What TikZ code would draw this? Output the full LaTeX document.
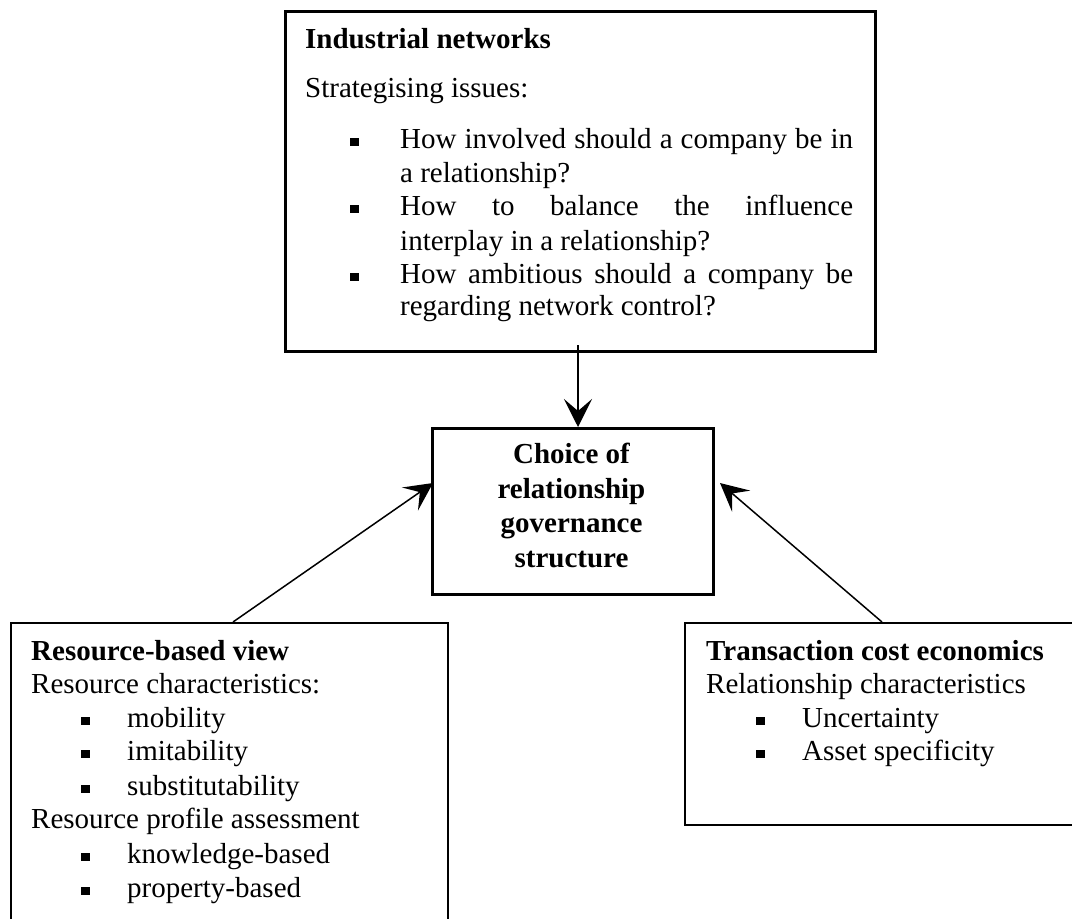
\documentclass[tikz,border=0pt]{standalone}
\usepackage{fontspec}
\setmainfont{Liberation Serif}
\usetikzlibrary{arrows.meta}
\newcommand{\sqbul}{\rule[2.5pt]{8.5pt}{8pt}}
\begin{document}
\begin{tikzpicture}[x=1pt,y=-1pt,
  txt/.style={anchor=base west, inner sep=0pt, font=\fontsize{29}{34}\selectfont},
  hd/.style={anchor=base west, inner sep=0pt, font=\fontsize{29}{34}\selectfont\bfseries},
  ctr/.style={anchor=base, inner sep=0pt, font=\fontsize{29}{34}\selectfont\bfseries},
  bul/.style={anchor=base west, inner sep=0pt},
  boxthin/.style={draw, line width=1.5pt, inner sep=0pt, anchor=north west},
  boxthick/.style={draw, line width=2.6pt, inner sep=0pt, anchor=north west},
  arr/.style={line width=1.5pt, -{Stealth[length=28pt,width=28pt,inset=12pt]}},
]
\useasboundingbox (0,0) rectangle (1072,919);
% boxes
\node[boxthick, minimum width=590pt, minimum height=340pt] (top) at (284,10) {};
\node[boxthick, minimum width=281pt, minimum height=166pt] (mid) at (431,427) {};
\node[boxthin, minimum width=437pt, minimum height=330pt] (rbv) at (10,622) {};
\node[boxthin, minimum width=420pt, minimum height=202pt] (tce) at (684,622) {};
% top box text
\node[hd] (t0) at (305,48) {Industrial networks};
\node[txt] (t1) at (305,97) {Strategising issues:};
\node[bul] (tb1) at (350,148) {\sqbul};
\node[txt] (t2) at (400,148) {\makebox[453pt][s]{How involved should a company be in}};
\node[txt] (t3) at (400,182) {a relationship?};
\node[bul] (tb2) at (350,215) {\sqbul};
\node[txt] (t4) at (400,215) {\makebox[453pt][s]{How to balance the influence}};
\node[txt] (t5) at (400,250) {interplay in a relationship?};
\node[bul] (tb3) at (350,283) {\sqbul};
\node[txt] (t6) at (400,283) {\makebox[453pt][s]{How ambitious should a company be}};
\node[txt] (t7) at (400,315) {regarding network control?};
% middle box text
\node[ctr] (c1) at (571.5,463) {Choice of};
\node[ctr] (c2) at (571.5,498) {relationship};
\node[ctr] (c3) at (571.5,532) {governance};
\node[ctr] (c4) at (571.5,567) {structure};
% left box text
\node[hd] (r0) at (31,660) {Resource-based view};
\node[txt] (r1) at (31,693) {Resource characteristics:};
\node[bul] (rb1) at (81,727) {\sqbul};
\node[txt] (r2) at (127,727) {mobility};
\node[bul] (rb2) at (81,760) {\sqbul};
\node[txt] (r3) at (127,760) {imitability};
\node[bul] (rb3) at (81,795) {\sqbul};
\node[txt] (r4) at (127,795) {substitutability};
\node[txt] (r5) at (31,828) {Resource profile assessment};
\node[bul] (rb4) at (81,863) {\sqbul};
\node[txt] (r6) at (127,863) {knowledge-based};
\node[bul] (rb5) at (81,897) {\sqbul};
\node[txt] (r7) at (127,897) {property-based};
% right box text
\node[hd] (e0) at (706,660) {Transaction cost economics};
\node[txt] (e1) at (706,693) {Relationship characteristics};
\node[bul] (eb1) at (756,727) {\sqbul};
\node[txt] (e2) at (802,727) {Uncertainty};
\node[bul] (eb2) at (756,760) {\sqbul};
\node[txt] (e3) at (802,760) {Asset specificity};
% connectors
\coordinate (ts) at (578,345);
\coordinate (rs) at (233,622);
\coordinate (es) at (882,622);
\coordinate (le) at (433,483);
\coordinate (re) at (720,483);
\draw[arr] (ts) -- (ts |- mid.north);
\draw[arr] (rs) -- (le);
\draw[arr] (es) -- (re);
\end{tikzpicture}
\end{document}
